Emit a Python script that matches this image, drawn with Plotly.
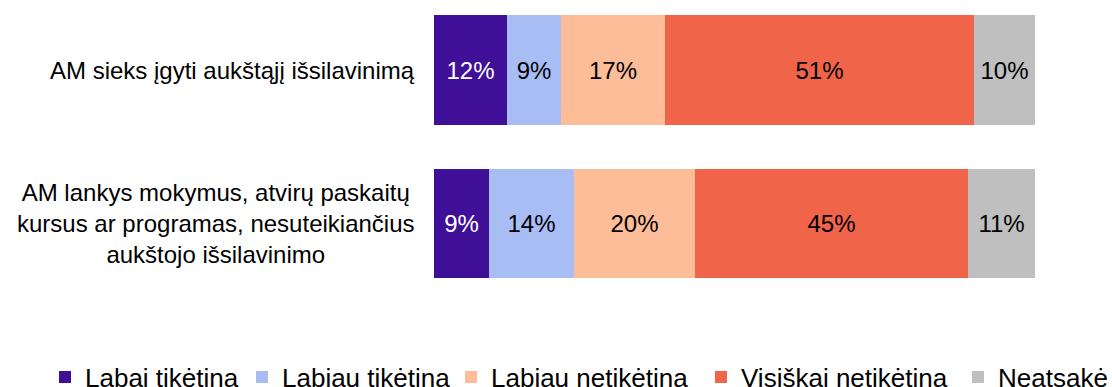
import plotly.graph_objects as go

categories = [
    "AM sieks įgyti aukštąjį išsilavinimą",
    "AM lankys mokymus, atvirų paskaitų<br>kursus ar programas, nesuteikiančius<br>aukštojo išsilavinimo",
]
series_names = ["Labai tikėtina", "Labiau tikėtina", "Labiau netikėtina", "Visiškai netikėtina", "Neatsakė"]
series_values = [
    [12, 9],
    [9, 14],
    [17, 20],
    [51, 45],
    [10, 11],
]
colors = ["#3F0F97", "#A9BDF5", "#FDBD99", "#F0654A", "#BFBFBF"]
text_colors = ["white", "black", "black", "black", "black"]

# left edge (px) of each legend entry along the bottom row
legend_left_px = [45, 242, 451, 701, 958]

FONT = "Liberation Sans, Arial, sans-serif"
W, H = 1112, 387
ML, MR, MT, MB = 434, 77, 10, 97
PW, PH = W - ML - MR, H - MT - MB
ypos = list(range(len(categories)))

fig = go.Figure()
legend_layouts = {}
for k, (name, vals, col, tcol) in enumerate(zip(series_names, series_values, colors, text_colors)):
    lname = "legend" if k == 0 else f"legend{k + 1}"
    fig.add_trace(go.Bar(
        name=name,
        y=ypos,
        x=vals,
        orientation="h",
        width=0.716,
        marker=dict(color=col, line=dict(width=0)),
        text=[f"{v}%" for v in vals],
        textposition="inside",
        insidetextanchor="middle",
        textangle=0,
        textfont=dict(family=FONT, size=24, color=tcol),
        hoverinfo="skip",
        legend=lname,
    ))
    legend_layouts[lname] = dict(
        orientation="h",
        x=(legend_left_px[k] - ML) / PW, xanchor="left",
        y=(PH - (377 - MT)) / PH, yanchor="middle",
        font=dict(family=FONT, size=26, color="black"),
        itemclick=False, itemdoubleclick=False,
        bgcolor="rgba(0,0,0,0)",
    )

# category labels to the left of the bars, lines centred
for i, label in enumerate(categories):
    fig.add_annotation(
        x=0, xref="paper", y=i, yref="y",
        xanchor="right", yanchor="middle", xshift=-17,
        text=label, showarrow=False, align="center",
        font=dict(family=FONT, size=24, color="black"),
    )

fig.update_layout(
    width=W, height=H,
    margin=dict(l=ML, r=MR, t=MT, b=MB, autoexpand=False),
    barmode="stack",
    bargap=0,
    plot_bgcolor="white",
    paper_bgcolor="white",
    xaxis=dict(range=[0, 99], visible=False, fixedrange=True),
    yaxis=dict(range=[1.433, -0.391], visible=False, fixedrange=True),
    showlegend=True,
    **legend_layouts,
)

fig.write_html("out.html")
